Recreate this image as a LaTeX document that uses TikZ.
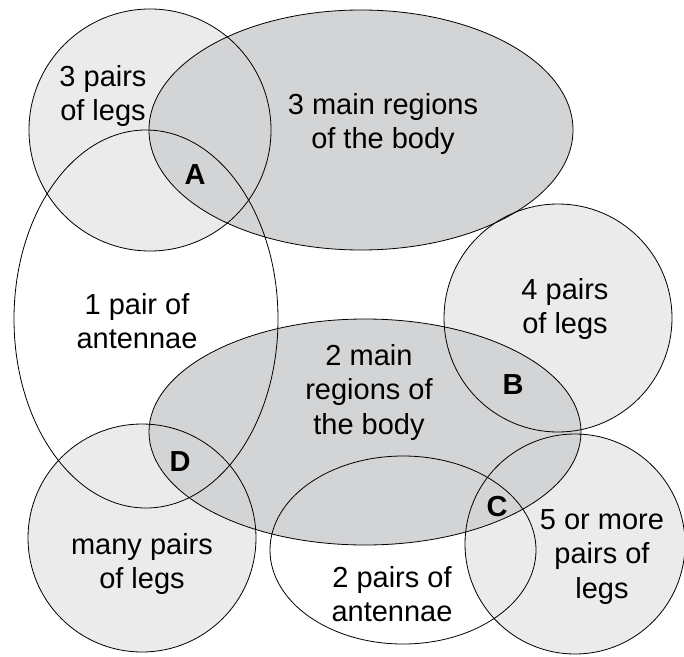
\documentclass[tikz,border=0pt]{standalone}
\usepackage{fontspec}
\setmainfont{Liberation Sans}
\definecolor{lightfill}{RGB}{235,235,235}
\definecolor{darkfill}{RGB}{211,212,214}
\begin{document}
\begin{tikzpicture}[x=1bp,y=-1bp,
  outline/.style={draw=black,line width=0.8bp},
  lbl/.style={align=center,font=\fontsize{29bp}{34.5bp}\selectfont,inner sep=0pt},
  letter/.style={font=\fontsize{29bp}{34bp}\selectfont\bfseries,inner sep=0pt}]
\useasboundingbox (0,0) rectangle (684,657);
% light circles
\fill[lightfill] (150,130) circle [radius=121bp];
\fill[lightfill] (558,318) circle [radius=114bp];
\fill[lightfill] (142,538) circle [radius=114bp];
\fill[lightfill] (575,544) circle [radius=110bp];
% darker ellipses
\fill[darkfill] (361,130) ellipse [x radius=212bp, y radius=120bp];
\fill[darkfill] (365,432) ellipse [x radius=216bp, y radius=113bp];
% outlines
\draw[outline] (150,130) circle [radius=121bp];
\draw[outline] (558,318) circle [radius=114bp];
\draw[outline] (142,538) circle [radius=114bp];
\draw[outline] (575,544) circle [radius=110bp];
\draw[outline] (361,130) ellipse [x radius=212bp, y radius=120bp];
\draw[outline] (365,432) ellipse [x radius=216bp, y radius=113bp];
\draw[outline] (146,319) ellipse [x radius=132bp, y radius=189bp];
\draw[outline] (403,550) ellipse [x radius=133bp, y radius=94bp];
% labels
\node[lbl] (t3legs) at (103,96) {3 pairs\\of legs};
\node[lbl] (t3main) at (383,124) {3 main regions\\of the body};
\node[lbl] (t1ant) at (137,321) {1 pair of\\antennae};
\node[lbl] (t4legs) at (565,309) {4 pairs\\of legs};
\node[lbl] (t2main) at (369,392) {2 main\\regions of\\the body};
\node[lbl] (tmany) at (142,564) {many pairs\\of legs};
\node[lbl] (t2ant) at (392,594) {2 pairs of\\antennae};
\node[lbl] (t5legs) at (602,557) {5 or more\\pairs of\\legs};
\node[letter] (lA) at (195,175) {A};
\node[letter] (lB) at (513,385) {B};
\node[letter] (lC) at (497,507) {C};
\node[letter] (lD) at (180,462) {D};
\end{tikzpicture}
\end{document}
